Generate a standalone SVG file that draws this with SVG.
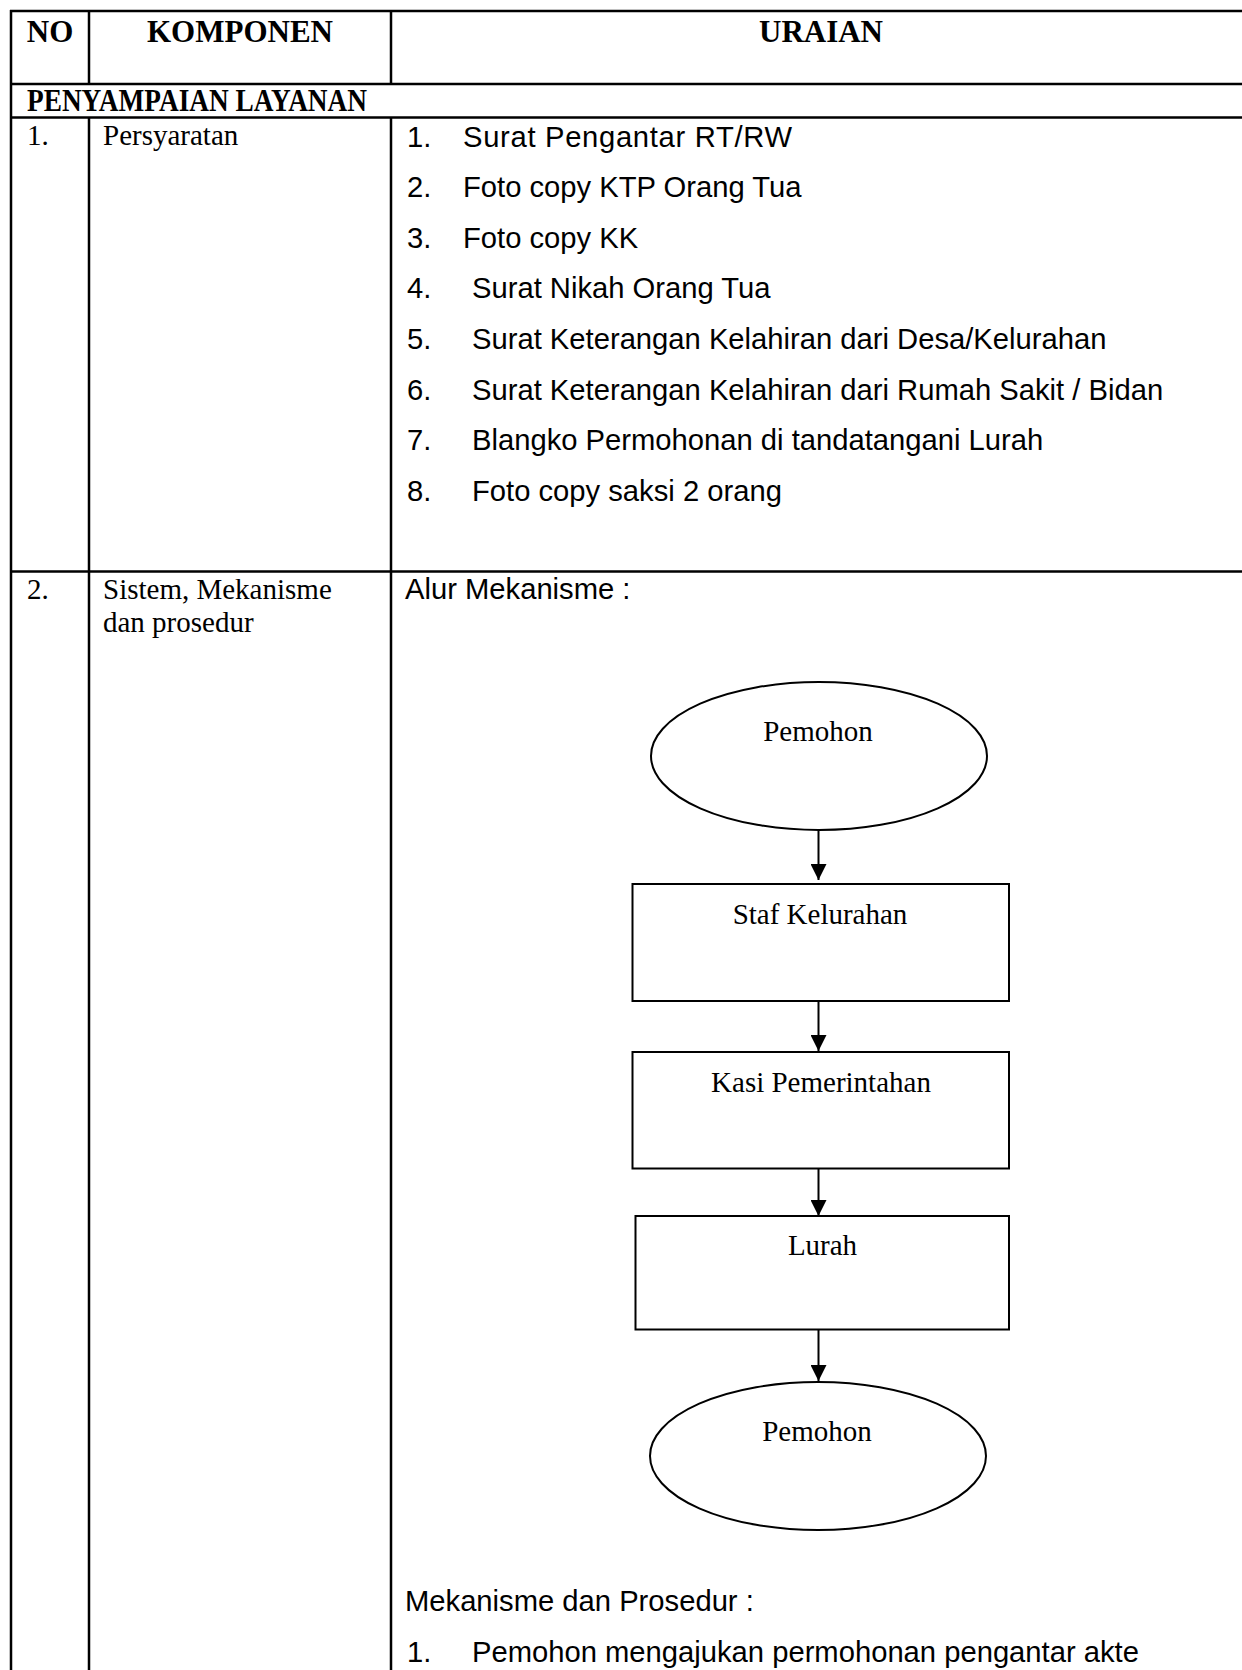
<svg xmlns="http://www.w3.org/2000/svg" width="1242" height="1670" viewBox="0 0 1242 1670">
  <defs>
    <style>
      .grid { stroke: #000; stroke-width: 2.5; fill: none; }
      .hd { font-family: "Liberation Serif", "Times New Roman", serif; font-weight: bold; font-size: 31px; fill: #000; }
      .tm { font-family: "Liberation Serif", "Times New Roman", serif; font-size: 29px; fill: #000; }
      .ar { font-family: "Liberation Sans", Arial, sans-serif; font-size: 29.2px; fill: #000; }
      .shape { fill: #fff; stroke: #000; stroke-width: 2; }
      .flow { stroke: #000; stroke-width: 2; fill: none; }
      .lbl { font-family: "Liberation Serif", "Times New Roman", serif; font-size: 29px; fill: #000; text-anchor: middle; }
    </style>
    <marker id="arrow" markerUnits="userSpaceOnUse" markerWidth="16" markerHeight="16" viewBox="0 0 16 16" refX="16" refY="8" orient="auto">
      <path d="M0,0 L16,8 L0,16 Z" fill="#000"/>
    </marker>
  </defs>
  <rect width="1242" height="1670" fill="#fff"/>

  <!-- table rules -->
  <g id="table" class="grid">
    <line x1="10" y1="11" x2="1242" y2="11"/>
    <line x1="10" y1="84" x2="1242" y2="84"/>
    <line x1="10" y1="117.5" x2="1242" y2="117.5"/>
    <line x1="10" y1="571.5" x2="1242" y2="571.5"/>
    <line x1="11" y1="10" x2="11" y2="1670"/>
    <line x1="89" y1="10" x2="89" y2="84"/>
    <line x1="89" y1="117.5" x2="89" y2="1670"/>
    <line x1="391" y1="10" x2="391" y2="84"/>
    <line x1="391" y1="117.5" x2="391" y2="1670"/>
  </g>

  <!-- header row -->
  <g id="header">
    <text class="hd" x="50" y="42" text-anchor="middle">NO</text>
    <text class="hd" x="240" y="42" text-anchor="middle">KOMPONEN</text>
    <text class="hd" x="821" y="42" text-anchor="middle">URAIAN</text>
    <text class="hd" x="27" y="111" font-size="21" textLength="340" lengthAdjust="spacingAndGlyphs">PENYAMPAIAN LAYANAN</text>
  </g>

  <!-- row 1: requirements -->
  <g id="row-persyaratan">
    <text class="tm" x="27" y="145">1.</text>
    <text class="tm" x="103" y="145">Persyaratan</text>
    <text class="ar" x="407" y="146.5">1.</text>
    <text class="ar" x="463" y="146.5" textLength="329" lengthAdjust="spacing">Surat Pengantar RT/RW</text>
    <text class="ar" x="407" y="197">2.</text>
    <text class="ar" x="463" y="197">Foto copy KTP Orang Tua</text>
    <text class="ar" x="407" y="247.5">3.</text>
    <text class="ar" x="463" y="247.5">Foto copy KK</text>
    <text class="ar" x="407" y="298">4.</text>
    <text class="ar" x="472" y="298">Surat Nikah Orang Tua</text>
    <text class="ar" x="407" y="349">5.</text>
    <text class="ar" x="472" y="349">Surat Keterangan Kelahiran dari Desa/Kelurahan</text>
    <text class="ar" x="407" y="399.5">6.</text>
    <text class="ar" x="472" y="399.5">Surat Keterangan Kelahiran dari Rumah Sakit / Bidan</text>
    <text class="ar" x="407" y="450">7.</text>
    <text class="ar" x="472" y="450">Blangko Permohonan di tandatangani Lurah</text>
    <text class="ar" x="407" y="501">8.</text>
    <text class="ar" x="472" y="501">Foto copy saksi 2 orang</text>
  </g>

  <!-- row 2: system, mechanism and procedure -->
  <g id="row-mekanisme">
    <text class="tm" x="27" y="598.5">2.</text>
    <text class="tm" x="103" y="598.5">Sistem, Mekanisme</text>
    <text class="tm" x="103" y="632">dan prosedur</text>
    <text class="ar" x="405" y="599">Alur Mekanisme :</text>
    <text class="ar" x="405" y="1611">Mekanisme dan Prosedur :</text>
    <text class="ar" x="407" y="1662">1.</text>
    <text class="ar" x="472" y="1662">Pemohon mengajukan permohonan pengantar akte</text>
  </g>

  <!-- flow connectors -->
  <g id="connectors" class="flow">
    <line x1="818.5" y1="830" x2="818.5" y2="880" marker-end="url(#arrow)"/>
    <line x1="818.5" y1="1001" x2="818.5" y2="1051" marker-end="url(#arrow)"/>
    <line x1="818.5" y1="1168.5" x2="818.5" y2="1216" marker-end="url(#arrow)"/>
    <line x1="818.5" y1="1329.5" x2="818.5" y2="1381" marker-end="url(#arrow)"/>
  </g>

  <!-- flow nodes -->
  <g id="node-pemohon-start">
    <ellipse class="shape" cx="819" cy="756" rx="168" ry="74"/>
    <text class="lbl" x="818" y="741">Pemohon</text>
  </g>
  <g id="node-staf">
    <rect class="shape" x="632.5" y="884" width="376.5" height="117"/>
    <text class="lbl" x="820" y="924">Staf Kelurahan</text>
  </g>
  <g id="node-kasi">
    <rect class="shape" x="632.5" y="1052" width="376.5" height="116.5"/>
    <text class="lbl" x="821" y="1092">Kasi Pemerintahan</text>
  </g>
  <g id="node-lurah">
    <rect class="shape" x="635.5" y="1216" width="373.5" height="113.5"/>
    <text class="lbl" x="822.5" y="1255">Lurah</text>
  </g>
  <g id="node-pemohon-end">
    <ellipse class="shape" cx="818" cy="1456" rx="168" ry="74"/>
    <text class="lbl" x="817" y="1441">Pemohon</text>
  </g>
</svg>
